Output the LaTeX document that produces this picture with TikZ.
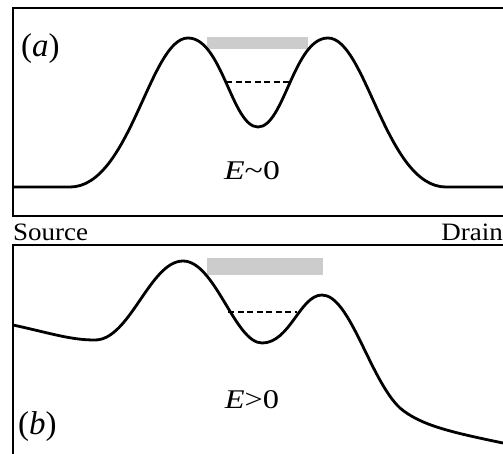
\documentclass[tikz,border=0pt]{standalone}
\usepackage{graphicx}
\usepackage{fontspec}
\setmainfont{Liberation Serif}
\begin{document}
\begin{tikzpicture}[x=1pt,y=-1pt,
  frame/.style={line width=1.6pt},
  curve/.style={line width=2.8pt, line join=round},
  level/.style={line width=1.5pt, dash pattern=on 6pt off 3.5pt},
  band/.style={fill=gray!40, draw=none},
  lab/.style={font=\fontsize{33}{35}\selectfont, inner sep=0pt},
  elab/.style={font=\fontsize{27}{29}\selectfont, inner sep=0pt},
  side/.style={font=\fontsize{25}{27}\selectfont, inner sep=0pt}]
\useasboundingbox[fill=white] (0,0) rectangle (503,453);
% panel (a)
\draw[frame] (503,8) -- (13,8) -- (13,216) -- (503,216);
\fill[band] (207,37) rectangle (308,49);
\draw[curve] (13,187) -- (70,187) .. controls (130,187) and (150,38) .. (188,38)
  .. controls (222,38) and (232,127) .. (258,127)
  .. controls (284,127) and (294,38) .. (328,38)
  .. controls (366,38) and (386,187) .. (446,187) -- (503,187);
\draw[level] (226,82) -- (291,82);
\node[lab, anchor=base west] (la) at (21,56) {(\textit{a})};
\node[elab, anchor=base] (ea) at (252,179) {\scalebox{1.25}[1]{\textit{E}\char"007E 0}};
% labels between
\node[side, anchor=base west] (src) at (13,240) {\scalebox{1.08}[1]{Source}};
\node[side, anchor=base east] (drn) at (503,240) {\scalebox{1.08}[1]{Drain}};
% panel (b)
\draw[frame] (503,245) -- (13,245) -- (13,455);
\fill[band] (207,258) rectangle (323,275);
\draw[curve] (13,325) .. controls (50,333) and (70,340) .. (95,340)
  .. controls (130,340) and (150,261) .. (183,261)
  .. controls (215,261) and (235,343) .. (262,343)
  .. controls (290,343) and (300,295) .. (322,295)
  .. controls (350,295) and (370,380) .. (400,408)
  .. controls (420,425) and (450,432) .. (503,443);
\draw[level] (228,312) -- (297,312);
\node[elab, anchor=base] (eb) at (252,408) {\scalebox{1.2}[1]{\textit{E}>0}};
\node[lab, anchor=base west] (lb) at (18,434) {(\textit{b})};
\end{tikzpicture}
\end{document}
